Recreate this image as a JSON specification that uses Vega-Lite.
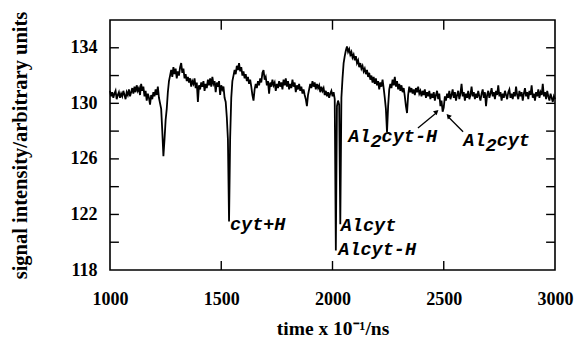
{
 "$schema": "https://vega.github.io/schema/vega-lite/v6.json",
 "width": 445, "height": 250,
 "autosize": {"type": "none"},
 "padding": {"left": 110, "top": 20, "right": 22, "bottom": 76},
 "background": "white",
 "config": {"view": {"stroke": "black", "strokeWidth": 1.6}},
 "datasets": {
  "trace": [
   {"t":1000,"v":130.9},{"t":1005,"v":130.5},{"t":1010,"v":130.8},{"t":1015,"v":130.4},{"t":1020,"v":130.7},{"t":1025,"v":130.9},{"t":1030,"v":130.3},{"t":1035,"v":130.6},{"t":1040,"v":130.8},{"t":1045,"v":130.4},
   {"t":1050,"v":130.7},{"t":1055,"v":130.5},{"t":1060,"v":130.9},{"t":1065,"v":130.6},{"t":1070,"v":130.3},{"t":1075,"v":130.8},{"t":1080,"v":130.6},{"t":1085,"v":131.0},{"t":1090,"v":130.5},{"t":1095,"v":130.8},
   {"t":1100,"v":131.1},{"t":1105,"v":130.7},{"t":1110,"v":131.2},{"t":1115,"v":130.8},{"t":1120,"v":131.3},{"t":1125,"v":130.9},{"t":1130,"v":131.1},{"t":1135,"v":130.6},{"t":1140,"v":131.4},{"t":1145,"v":130.9},
   {"t":1150,"v":131.2},{"t":1155,"v":130.5},{"t":1160,"v":130.9},{"t":1165,"v":130.2},{"t":1170,"v":130.7},{"t":1175,"v":130.4},{"t":1180,"v":129.9},{"t":1185,"v":130.6},{"t":1190,"v":130.3},{"t":1195,"v":130.8},
   {"t":1200,"v":130.5},{"t":1205,"v":131.0},{"t":1210,"v":130.6},{"t":1215,"v":131.2},{"t":1220,"v":130.4},{"t":1225,"v":130.0},{"t":1230,"v":129.6},{"t":1235,"v":128.0},{"t":1240,"v":126.2},{"t":1245,"v":127.4},
   {"t":1250,"v":128.8},{"t":1255,"v":129.6},{"t":1260,"v":130.8},{"t":1265,"v":131.6},{"t":1270,"v":132.0},{"t":1275,"v":132.4},{"t":1280,"v":131.9},{"t":1285,"v":132.6},{"t":1290,"v":132.1},{"t":1295,"v":132.5},
   {"t":1300,"v":131.8},{"t":1305,"v":132.3},{"t":1310,"v":132.0},{"t":1315,"v":132.6},{"t":1320,"v":132.9},{"t":1325,"v":132.2},{"t":1330,"v":132.5},{"t":1335,"v":131.8},{"t":1340,"v":132.1},{"t":1345,"v":131.6},
   {"t":1350,"v":131.9},{"t":1355,"v":131.5},{"t":1360,"v":131.8},{"t":1365,"v":131.2},{"t":1370,"v":131.6},{"t":1375,"v":131.4},{"t":1380,"v":131.8},{"t":1385,"v":131.1},{"t":1390,"v":131.5},{"t":1395,"v":130.1},
   {"t":1400,"v":131.3},{"t":1405,"v":131.0},{"t":1410,"v":131.5},{"t":1415,"v":131.2},{"t":1420,"v":131.6},{"t":1425,"v":130.9},{"t":1430,"v":131.4},{"t":1435,"v":131.1},{"t":1440,"v":131.7},{"t":1445,"v":131.3},
   {"t":1450,"v":131.8},{"t":1455,"v":131.2},{"t":1460,"v":131.9},{"t":1465,"v":131.4},{"t":1470,"v":131.6},{"t":1475,"v":130.8},{"t":1480,"v":131.5},{"t":1485,"v":131.2},{"t":1490,"v":131.6},{"t":1495,"v":130.6},
   {"t":1500,"v":131.3},{"t":1505,"v":131.0},{"t":1510,"v":131.2},{"t":1515,"v":130.4},{"t":1520,"v":130.1},{"t":1525,"v":129.0},{"t":1530,"v":127.4},{"t":1535,"v":121.5},{"t":1540,"v":127.5},{"t":1545,"v":130.4},
   {"t":1550,"v":131.6},{"t":1555,"v":132.0},{"t":1560,"v":132.4},{"t":1565,"v":132.1},{"t":1570,"v":132.7},{"t":1575,"v":132.4},{"t":1580,"v":132.9},{"t":1585,"v":132.3},{"t":1590,"v":132.6},{"t":1595,"v":132.0},
   {"t":1600,"v":132.3},{"t":1605,"v":131.8},{"t":1610,"v":132.1},{"t":1615,"v":131.6},{"t":1620,"v":131.9},{"t":1625,"v":131.4},{"t":1630,"v":131.7},{"t":1635,"v":131.2},{"t":1640,"v":130.6},{"t":1645,"v":130.2},
   {"t":1650,"v":131.0},{"t":1655,"v":131.4},{"t":1660,"v":131.1},{"t":1665,"v":131.6},{"t":1670,"v":131.3},{"t":1675,"v":131.8},{"t":1680,"v":131.5},{"t":1685,"v":132.2},{"t":1690,"v":132.4},{"t":1695,"v":131.7},
   {"t":1700,"v":131.9},{"t":1705,"v":131.3},{"t":1710,"v":131.6},{"t":1715,"v":130.7},{"t":1720,"v":131.5},{"t":1725,"v":131.2},{"t":1730,"v":131.7},{"t":1735,"v":131.3},{"t":1740,"v":131.5},{"t":1745,"v":130.9},
   {"t":1750,"v":131.4},{"t":1755,"v":131.1},{"t":1760,"v":131.6},{"t":1765,"v":131.2},{"t":1770,"v":131.5},{"t":1775,"v":131.0},{"t":1780,"v":131.7},{"t":1785,"v":131.3},{"t":1790,"v":131.8},{"t":1795,"v":131.2},
   {"t":1800,"v":131.6},{"t":1805,"v":131.0},{"t":1810,"v":131.4},{"t":1815,"v":131.1},{"t":1820,"v":131.7},{"t":1825,"v":131.2},{"t":1830,"v":131.5},{"t":1835,"v":130.8},{"t":1840,"v":131.3},{"t":1845,"v":131.0},
   {"t":1850,"v":131.4},{"t":1855,"v":130.9},{"t":1860,"v":131.2},{"t":1865,"v":130.7},{"t":1870,"v":131.0},{"t":1875,"v":130.6},{"t":1880,"v":130.3},{"t":1885,"v":129.8},{"t":1890,"v":130.6},{"t":1895,"v":131.0},
   {"t":1900,"v":131.4},{"t":1905,"v":131.1},{"t":1910,"v":131.6},{"t":1915,"v":131.2},{"t":1920,"v":131.5},{"t":1925,"v":131.0},{"t":1930,"v":131.4},{"t":1935,"v":131.1},{"t":1940,"v":131.3},{"t":1945,"v":130.8},
   {"t":1950,"v":131.2},{"t":1955,"v":130.9},{"t":1960,"v":131.1},{"t":1965,"v":130.6},{"t":1970,"v":130.9},{"t":1975,"v":130.5},{"t":1980,"v":130.8},{"t":1985,"v":130.4},{"t":1990,"v":130.7},{"t":1995,"v":130.9},
   {"t":2000,"v":130.5},{"t":2005,"v":130.8},{"t":2010,"v":130.3},{"t":2015,"v":119.4},{"t":2020,"v":129.8},{"t":2025,"v":130.2},{"t":2030,"v":129.9},{"t":2035,"v":121.3},{"t":2040,"v":130.4},{"t":2045,"v":131.8},
   {"t":2050,"v":132.9},{"t":2055,"v":133.4},{"t":2060,"v":133.8},{"t":2065,"v":134.1},{"t":2070,"v":133.7},{"t":2075,"v":133.9},{"t":2080,"v":133.5},{"t":2085,"v":133.7},{"t":2090,"v":133.3},{"t":2095,"v":133.5},
   {"t":2100,"v":133.1},{"t":2105,"v":133.4},{"t":2110,"v":132.9},{"t":2115,"v":133.1},{"t":2120,"v":132.6},{"t":2125,"v":132.9},{"t":2130,"v":132.5},{"t":2135,"v":132.7},{"t":2140,"v":132.3},{"t":2145,"v":132.5},
   {"t":2150,"v":132.1},{"t":2155,"v":132.4},{"t":2160,"v":131.9},{"t":2165,"v":132.2},{"t":2170,"v":131.7},{"t":2175,"v":132.0},{"t":2180,"v":131.5},{"t":2185,"v":131.9},{"t":2190,"v":131.4},{"t":2195,"v":131.8},
   {"t":2200,"v":131.3},{"t":2205,"v":131.6},{"t":2210,"v":131.0},{"t":2215,"v":131.5},{"t":2220,"v":131.2},{"t":2225,"v":131.7},{"t":2230,"v":131.1},{"t":2235,"v":130.4},{"t":2240,"v":129.6},{"t":2245,"v":127.9},
   {"t":2250,"v":129.8},{"t":2255,"v":131.0},{"t":2260,"v":131.4},{"t":2265,"v":131.1},{"t":2270,"v":131.7},{"t":2275,"v":131.3},{"t":2280,"v":131.9},{"t":2285,"v":131.2},{"t":2290,"v":131.6},{"t":2295,"v":131.0},
   {"t":2300,"v":131.4},{"t":2305,"v":130.9},{"t":2310,"v":131.3},{"t":2315,"v":130.8},{"t":2320,"v":131.1},{"t":2325,"v":130.5},{"t":2330,"v":129.8},{"t":2335,"v":129.3},{"t":2340,"v":130.6},{"t":2345,"v":131.2},
   {"t":2350,"v":130.8},{"t":2355,"v":131.1},{"t":2360,"v":130.7},{"t":2365,"v":131.0},{"t":2370,"v":130.6},{"t":2375,"v":131.1},{"t":2380,"v":130.8},{"t":2385,"v":131.2},{"t":2390,"v":130.7},{"t":2395,"v":130.9},
   {"t":2400,"v":130.5},{"t":2405,"v":130.9},{"t":2410,"v":130.6},{"t":2415,"v":131.0},{"t":2420,"v":130.4},{"t":2425,"v":130.8},{"t":2430,"v":130.5},{"t":2435,"v":130.9},{"t":2440,"v":130.3},{"t":2445,"v":130.7},
   {"t":2450,"v":130.4},{"t":2455,"v":130.8},{"t":2460,"v":130.2},{"t":2465,"v":130.6},{"t":2470,"v":130.9},{"t":2475,"v":130.3},{"t":2480,"v":130.7},{"t":2485,"v":129.8},{"t":2490,"v":130.2},{"t":2495,"v":129.4},
   {"t":2500,"v":129.7},{"t":2505,"v":130.5},{"t":2510,"v":130.2},{"t":2515,"v":130.7},{"t":2520,"v":130.4},{"t":2525,"v":130.9},{"t":2530,"v":130.3},{"t":2535,"v":130.6},{"t":2540,"v":131.0},{"t":2545,"v":130.4},
   {"t":2550,"v":130.8},{"t":2555,"v":130.2},{"t":2560,"v":130.6},{"t":2565,"v":130.9},{"t":2570,"v":130.3},{"t":2575,"v":130.7},{"t":2580,"v":131.4},{"t":2585,"v":130.5},{"t":2590,"v":130.8},{"t":2595,"v":130.2},
   {"t":2600,"v":130.7},{"t":2605,"v":130.4},{"t":2610,"v":130.9},{"t":2615,"v":130.3},{"t":2620,"v":130.6},{"t":2625,"v":131.2},{"t":2630,"v":130.5},{"t":2635,"v":130.8},{"t":2640,"v":130.3},{"t":2645,"v":130.7},
   {"t":2650,"v":130.4},{"t":2655,"v":130.9},{"t":2660,"v":130.5},{"t":2665,"v":130.2},{"t":2670,"v":130.7},{"t":2675,"v":131.0},{"t":2680,"v":130.4},{"t":2685,"v":130.8},{"t":2690,"v":129.8},{"t":2695,"v":130.6},
   {"t":2700,"v":130.9},{"t":2705,"v":130.4},{"t":2710,"v":130.7},{"t":2715,"v":131.1},{"t":2720,"v":130.5},{"t":2725,"v":130.8},{"t":2730,"v":130.3},{"t":2735,"v":130.9},{"t":2740,"v":130.6},{"t":2745,"v":131.3},
   {"t":2750,"v":130.5},{"t":2755,"v":130.8},{"t":2760,"v":130.2},{"t":2765,"v":130.7},{"t":2770,"v":130.4},{"t":2775,"v":130.9},{"t":2780,"v":130.6},{"t":2785,"v":130.3},{"t":2790,"v":130.8},{"t":2795,"v":131.0},
   {"t":2800,"v":130.4},{"t":2805,"v":130.7},{"t":2810,"v":130.3},{"t":2815,"v":130.8},{"t":2820,"v":130.5},{"t":2825,"v":131.2},{"t":2830,"v":130.6},{"t":2835,"v":130.3},{"t":2840,"v":130.9},{"t":2845,"v":130.5},
   {"t":2850,"v":130.8},{"t":2855,"v":130.2},{"t":2860,"v":130.7},{"t":2865,"v":131.1},{"t":2870,"v":130.5},{"t":2875,"v":130.8},{"t":2880,"v":130.3},{"t":2885,"v":130.9},{"t":2890,"v":130.6},{"t":2895,"v":131.3},
   {"t":2900,"v":130.4},{"t":2905,"v":130.7},{"t":2910,"v":130.2},{"t":2915,"v":130.8},{"t":2920,"v":130.5},{"t":2925,"v":131.0},{"t":2930,"v":130.4},{"t":2935,"v":130.8},{"t":2940,"v":130.6},{"t":2945,"v":131.4},
   {"t":2950,"v":130.5},{"t":2955,"v":130.8},{"t":2960,"v":130.3},{"t":2965,"v":130.9},{"t":2970,"v":130.5},{"t":2975,"v":130.2},{"t":2980,"v":130.7},{"t":2985,"v":130.4},{"t":2990,"v":130.1},{"t":2995,"v":130.5},
   {"t":3000,"v":130.3}
  ],
  "labels": [
   {"t":1539,"v":120.9,"label":"cyt+H"},
   {"t":2037,"v":120.8,"label":"Alcyt"},
   {"t":2026,"v":119.1,"label":"Alcyt-H"},
   {"t":2071,"v":127.25,"label":"Al cyt-H"},
   {"t":2588,"v":126.95,"label":"Al cyt"}
  ],
  "subs": [
   {"t":2071,"v":127.25,"label":"2"},
   {"t":2588,"v":126.95,"label":"2"}
  ],
  "arrows": [
   {"t":2384,"v":128.23,"t2":2466,"v2":129.3},
   {"t":2587,"v":127.96,"t2":2522,"v2":129.0}
  ],
  "head1": [{"t":2468,"v":129.4}],
  "head2": [{"t":2520,"v":129.1}],
  "yticks": [{"v":120},{"v":122},{"v":124},{"v":126},{"v":128},{"v":130},{"v":132},{"v":134}],
  "xticks": [{"t":1500},{"t":2000},{"t":2500}]
 },
 "layer": [
  {
   "data": {"name": "trace"},
   "mark": {"type": "line", "color": "black", "strokeWidth": 1.8},
   "encoding": {
    "x": {"field": "t", "type": "quantitative", "scale": {"domain": [1000, 3000], "nice": false, "zero": false},
     "axis": {"orient": "bottom", "values": [1000, 1500, 2000, 2500, 3000], "format": "d", "title": "time x 10⁻¹/ns",
      "grid": false, "domain": false, "ticks": false, "labelFlush": false,
      "labelFont": "Liberation Serif", "labelFontSize": 18, "labelFontWeight": "bold", "labelColor": "black", "labelPadding": 20,
      "titleFont": "Liberation Serif", "titleFontSize": 19.5, "titleFontWeight": "bold", "titleColor": "black", "titlePadding": 11}},
    "y": {"field": "v", "type": "quantitative", "scale": {"domain": [118, 136], "nice": false, "zero": false},
     "axis": {"orient": "left", "values": [118, 120, 122, 124, 126, 128, 130, 132, 134, 136], "format": "d", "title": "signal intensity/arbitrary units",
      "grid": false, "domain": false, "ticks": false, "labelFlush": false,
      "labelFont": "Liberation Serif", "labelFontSize": 18, "labelFontWeight": "bold", "labelColor": "black", "labelPadding": 13,
      "titleFont": "Liberation Serif", "titleFontSize": 20.5, "titleFontWeight": "bold", "titleColor": "black", "titlePadding": 40}}
   }
  },
  {
   "data": {"name": "yticks"},
   "mark": {"type": "rule", "color": "black", "strokeWidth": 1.4},
   "encoding": {
    "y": {"field": "v", "type": "quantitative"},
    "x": {"datum": 1000, "type": "quantitative"},
    "x2": {"datum": 1040}
   }
  },
  {
   "data": {"name": "yticks"},
   "mark": {"type": "rule", "color": "black", "strokeWidth": 1.4},
   "encoding": {
    "y": {"field": "v", "type": "quantitative"},
    "x": {"datum": 2960, "type": "quantitative"},
    "x2": {"datum": 3000}
   }
  },
  {
   "data": {"name": "xticks"},
   "mark": {"type": "rule", "color": "black", "strokeWidth": 1.4},
   "encoding": {
    "x": {"field": "t", "type": "quantitative"},
    "y": {"datum": 118, "type": "quantitative"},
    "y2": {"datum": 118.65}
   }
  },
  {
   "data": {"name": "xticks"},
   "mark": {"type": "rule", "color": "black", "strokeWidth": 1.4},
   "encoding": {
    "x": {"field": "t", "type": "quantitative"},
    "y": {"datum": 135.3, "type": "quantitative"},
    "y2": {"datum": 136}
   }
  },
  {
   "data": {"name": "labels"},
   "mark": {"type": "text", "align": "left", "baseline": "alphabetic", "font": "Liberation Mono", "fontSize": 18.5, "fontWeight": "bold", "fontStyle": "italic", "color": "black"},
   "encoding": {
    "x": {"field": "t", "type": "quantitative"},
    "y": {"field": "v", "type": "quantitative"},
    "text": {"field": "label"}
   }
  },
  {
   "data": {"name": "subs"},
   "mark": {"type": "text", "align": "left", "baseline": "alphabetic", "dx": 22.2, "dy": 5, "font": "Liberation Mono", "fontSize": 18.5, "fontWeight": "bold", "fontStyle": "italic", "color": "black"},
   "encoding": {
    "x": {"field": "t", "type": "quantitative"},
    "y": {"field": "v", "type": "quantitative"},
    "text": {"field": "label"}
   }
  },
  {
   "data": {"name": "arrows"},
   "mark": {"type": "rule", "color": "black", "strokeWidth": 1.3},
   "encoding": {
    "x": {"field": "t", "type": "quantitative"},
    "y": {"field": "v", "type": "quantitative"},
    "x2": {"field": "t2"},
    "y2": {"field": "v2"}
   }
  },
  {
   "data": {"name": "head1"},
   "mark": {"type": "point", "shape": "triangle-up", "filled": true, "color": "black", "size": 30, "angle": 49, "opacity": 1},
   "encoding": {
    "x": {"field": "t", "type": "quantitative"},
    "y": {"field": "v", "type": "quantitative"}
   }
  },
  {
   "data": {"name": "head2"},
   "mark": {"type": "point", "shape": "triangle-up", "filled": true, "color": "black", "size": 30, "angle": 317, "opacity": 1},
   "encoding": {
    "x": {"field": "t", "type": "quantitative"},
    "y": {"field": "v", "type": "quantitative"}
   }
  }
 ]
}
